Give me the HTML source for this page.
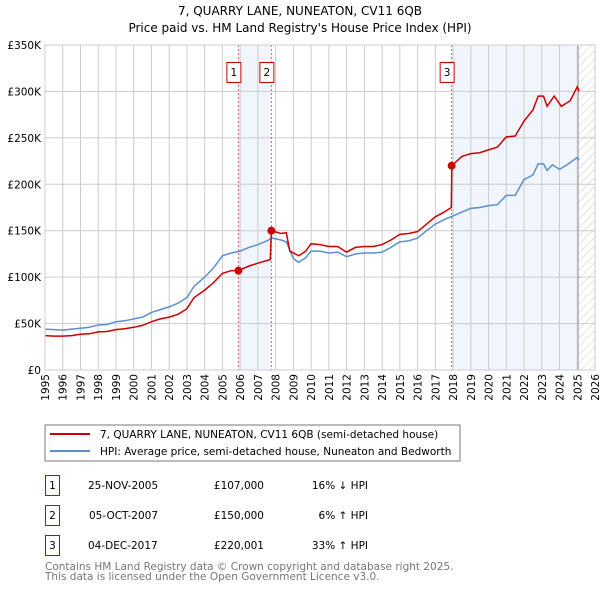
<!DOCTYPE html>
<html><head><meta charset="utf-8"><style>
body{margin:0;background:#fff;font-family:"DejaVu Sans","Liberation Sans",sans-serif}
svg text{font-family:"DejaVu Sans","Liberation Sans",sans-serif}
</style></head><body>
<svg id="c" width="600" height="590" xmlns="http://www.w3.org/2000/svg">
<defs><pattern id="hatch" width="6" height="6" patternUnits="userSpaceOnUse" patternTransform="rotate(45)"><line x1="0" y1="0" x2="0" y2="6" stroke="#bbb" stroke-width="0.8"/></pattern></defs>
<text x="300" y="15" text-anchor="middle" font-size="12">7, QUARRY LANE, NUNEATON, CV11 6QB</text>
<text x="300" y="32" text-anchor="middle" font-size="12">Price paid vs. HM Land Registry's House Price Index (HPI)</text>
<g id="grid"></g><g id="marks"></g><g id="axes"></g>
<rect x="45" y="425" width="415" height="36" fill="#fff" stroke="#777"/>
<line x1="50" y1="434" x2="90" y2="434" stroke="#cc0000" stroke-width="2"/>
<text x="100" y="438" font-size="10.5">7, QUARRY LANE, NUNEATON, CV11 6QB (semi-detached house)</text>
<line x1="50" y1="451" x2="90" y2="451" stroke="#5b8fd0" stroke-width="2"/>
<text x="100" y="455" font-size="10.5">HPI: Average price, semi-detached house, Nuneaton and Bedworth</text>
<g font-size="10.5">
<rect x="45.5" y="475.5" width="14" height="20" fill="none" stroke="#cc0000"/><text x="52.5" y="489" text-anchor="middle">1</text>
<text x="88" y="489">25-NOV-2005</text><text x="264" y="489" text-anchor="end">£107,000</text><text x="368" y="489" text-anchor="end">16% ↓ HPI</text>
<rect x="45.5" y="505.5" width="14" height="20" fill="none" stroke="#cc0000"/><text x="52.5" y="519" text-anchor="middle">2</text>
<text x="89" y="519">05-OCT-2007</text><text x="264" y="519" text-anchor="end">£150,000</text><text x="368" y="519" text-anchor="end">6% ↑ HPI</text>
<rect x="45.5" y="535.5" width="14" height="20" fill="none" stroke="#cc0000"/><text x="52.5" y="549" text-anchor="middle">3</text>
<text x="88" y="549">04-DEC-2017</text><text x="264" y="549" text-anchor="end">£220,001</text><text x="368" y="549" text-anchor="end">33% ↑ HPI</text>
</g>
<text x="45" y="570" font-size="10.5" fill="#777">Contains HM Land Registry data © Crown copyright and database right 2025.</text>
<text x="45" y="580" font-size="10.5" fill="#777">This data is licensed under the Open Government Licence v3.0.</text>
</svg>
<script>
const hpiYears=[1995,1995.5,1996,1996.5,1997,1997.5,1998,1998.5,1999,1999.5,2000,2000.5,2001,2001.5,2002,2002.5,2003,2003.4,2004,2004.5,2005,2005.5,2006,2006.5,2007,2007.5,2007.8,2008.3,2008.6,2009,2009.3,2009.7,2010,2010.5,2011,2011.5,2012,2012.5,2013,2013.5,2014,2014.5,2015,2015.5,2016,2016.5,2017,2017.5,2018,2018.5,2019,2019.5,2020,2020.5,2021,2021.5,2022,2022.5,2022.8,2023.1,2023.3,2023.6,2024,2024.5,2025,2025.1];
const hpiValues=[44,43.5,43,44,45,46,48.5,49,52,53,55,57,62,65,68,72,78,90,100,110,123,126,128,132,135,139,142,140,138,120,116,121,128,128,126,127,122,125,126,126,127,132,138,139,142,150,157,162,166,170,174,175,177,178,188,188,205,210,222,222,215,221,216,222,229,226];
const ppYears=[1995,1995.5,1996,1996.5,1997,1997.5,1998,1998.5,1999,1999.5,2000,2000.5,2001,2001.5,2002,2002.5,2003,2003.4,2004,2004.5,2005,2005.5,2005.9,2006.5,2007,2007.7,2007.76,2008.3,2008.6,2008.8,2009.3,2009.7,2010,2010.5,2011,2011.5,2012,2012.5,2013,2013.5,2014,2014.5,2015,2015.5,2016,2016.5,2017,2017.5,2017.9,2017.93,2018.5,2019,2019.5,2020,2020.5,2021,2021.5,2022,2022.5,2022.8,2023.1,2023.3,2023.7,2024.1,2024.6,2025,2025.1];
const ppValues=[37,36.5,36.5,37,38.5,39,41,41.5,43.5,44.5,46,48,52,55,57,60,66,78,86,94,104,107,107,112,115,119,150,147,148,128,123,128,136,135,133,133,127,132,133,133,135,140,146,147,149,157,165,170,175,220,230,233,234,237,240,251,252,268,280,295,295,284,295,284,290,305,300];
const saleYears=[2005.9,2007.76,2017.92];
const saleValues=[107,150,220.001];
const saleLabels=["1","2","3"];
const yTicks=[0,50,100,150,200,250,300,350];
const yTickLabels=["£0","£50K","£100K","£150K","£200K","£250K","£300K","£350K"];
const xTicks=[1995,1996,1997,1998,1999,2000,2001,2002,2003,2004,2005,2006,2007,2008,2009,2010,2011,2012,2013,2014,2015,2016,2017,2018,2019,2020,2021,2022,2023,2024,2025,2026];
const dataEnd=2025.05;
const X0=45,X1=595,Y0=370,Y1=45;
const xs=v=>X0+(v-1995)/31*(X1-X0);
const ys=v=>Y0-v/350*(Y0-Y1);
const NS="http://www.w3.org/2000/svg";
function mk(tag,attrs,parent){const e=document.createElementNS(NS,tag);for(const k in attrs)e.setAttribute(k,attrs[k]);document.getElementById(parent).appendChild(e);return e;}
let r=mk('rect',{x:xs(saleYears[0]),y:Y1,width:xs(saleYears[1])-xs(saleYears[0]),height:Y0-Y1,fill:'#eef3fc',opacity:0.8},'grid');


r=mk('rect',{x:xs(saleYears[2]),y:Y1,width:xs(dataEnd)-xs(saleYears[2]),height:Y0-Y1,fill:'#eef3fc',opacity:0.8},'grid');


r=mk('rect',{x:xs(dataEnd),y:Y1,width:X1-xs(dataEnd),height:Y0-Y1,fill:'url(#hatch)'},'grid');


yTicks.forEach((t,i)=>{
 const l=mk('line',{x1:X0,x2:X1,y1:ys(t),y2:ys(t),stroke:'#ccc'},'grid');
 
 
 const tx=mk('text',{x:X0-4,y:ys(t)+4,'text-anchor':'end','font-size':'10.5'},'axes');
 tx.textContent=yTickLabels[i];
 
 
});
xTicks.forEach(t=>{
 const l=mk('line',{x1:xs(t),x2:xs(t),y1:Y1,y2:Y0,stroke:'#ccc'},'grid');
 
 
 const tx=mk('text',{x:0,y:0,'text-anchor':'end','font-size':'10.5',transform:`translate(${xs(t)+4},${Y0+4}) rotate(-90)`},'axes');
 tx.textContent=t;
 
 
});
let el=mk('line',{x1:xs(dataEnd),x2:xs(dataEnd),y1:Y1,y2:Y0,stroke:'#999'},'grid');


el=mk('rect',{x:X0,y:Y1,width:X1-X0,height:Y0-Y1,fill:'none',stroke:'#ccc'},'axes');


saleYears.forEach((s,i)=>{
 const l=mk('line',{x1:xs(s),x2:xs(s),y1:Y1,y2:Y0,stroke:'#e06060','stroke-dasharray':'2,2'},'marks');
 
 
});
const pts=(xa,va)=>xa.map((x,i)=>xs(x).toFixed(1)+','+ys(va[i]).toFixed(1)).join(' ');
el=mk('polyline',{points:pts(hpiYears,hpiValues),fill:'none',stroke:'#5b8fd0','stroke-width':1.5},'marks');


el=mk('polyline',{points:pts(ppYears,ppValues),fill:'none',stroke:'#cc0000','stroke-width':1.5},'marks');


saleYears.forEach((s,i)=>{
 const c=mk('circle',{cx:xs(s),cy:ys(saleValues[i]),r:4,fill:'#cc0000'},'marks');
 
 
 const b=mk('rect',{x:xs(s)-11.5,y:62.5,width:14,height:20,fill:'#fff',stroke:'#cc0000'},'marks');
 
 
 const t=mk('text',{x:xs(s)-4.5,y:76,'text-anchor':'middle','font-size':'10.5'},'marks');
 t.textContent=saleLabels[i];
 
 
});
</script>
</body></html>
